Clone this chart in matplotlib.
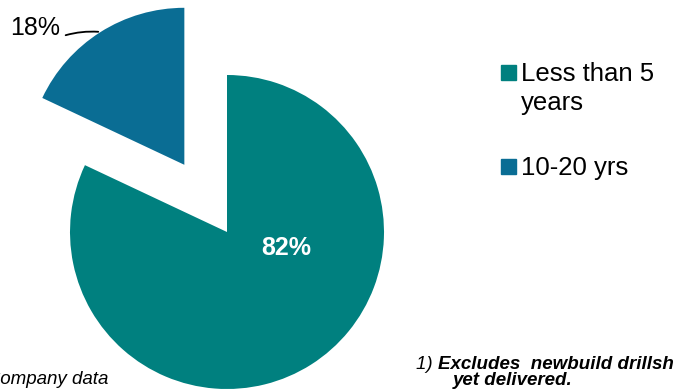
import matplotlib
matplotlib.use('Agg')
import matplotlib.pyplot as plt
from matplotlib.patches import Rectangle

plt.rcParams['font.family'] = ['Liberation Sans', 'DejaVu Sans']

# ── Data ──────────────────────────────────────────────────────────────────────
labels = ['Less than 5\nyears', '10-20 yrs']
values = [82, 18]
colors = ['#00807F', '#0A6D94']
footnote = ['1) ', 'Excludes  newbuild drillships not', 'yet delivered.']
source = 'Source: Company data'

W, H = 673, 389
CX, CY, R = 227, 232, 157   # pie centre / radius in pixels


def px(x, y):
    """pixel (from top-left) -> pie data units"""
    return (x - CX) / R, (CY - y) / R


fig = plt.figure(figsize=(W / 100, H / 100), dpi=100)
ax = fig.add_axes([0, 0, 1, 1])

ax.pie(values, colors=colors, startangle=90, counterclock=False,
       explode=[0, 0.507], radius=1, wedgeprops=dict(linewidth=0))
ax.set_xlim(-CX / R, (W - CX) / R)
ax.set_ylim(-(H - CY) / R, CY / R)
ax.axis('off')

# value labels
ax.text(*px(286, 248), f'{values[0]}%', color='white', fontsize=18,
        fontweight='bold', ha='center', va='center')
ax.text(*px(35, 28), f'{values[1]}%', color='black', fontsize=18,
        ha='center', va='center')
ax.annotate('', xy=px(101, 32), xytext=px(63, 36),
            arrowprops=dict(arrowstyle='-', color='black', lw=1.3,
                            connectionstyle='arc3,rad=-0.1'))

# legend (drawn by hand to keep the squares at the first line)
leg_y = [65, 159]
for lab, col, y in zip(labels, colors, leg_y):
    fig.patches.append(Rectangle((501 / W, 1 - (y + 15) / H), 15 / W, 15 / H,
                                 transform=fig.transFigure, color=col))
    fig.text(521 / W, 1 - (y - 3) / H, lab, fontsize=18.5, va='top',
             ha='left', linespacing=1.28)

# footnotes (cut off by the slide crop)
fig.text(416 / W, 1 - 369 / H, footnote[0], fontsize=13.5, style='italic',
         va='baseline')
fig.text(438 / W, 1 - 369 / H, footnote[1], fontsize=13.5, style='italic',
         fontweight='bold', va='baseline')
fig.text(453 / W, 1 - 385 / H, footnote[2], fontsize=13.5, style='italic',
         fontweight='bold', va='baseline')
fig.text(108 / W, 1 - 384 / H, source, fontsize=13.5, style='italic',
         ha='right', va='baseline')

fig.savefig('out.png', dpi=100)
